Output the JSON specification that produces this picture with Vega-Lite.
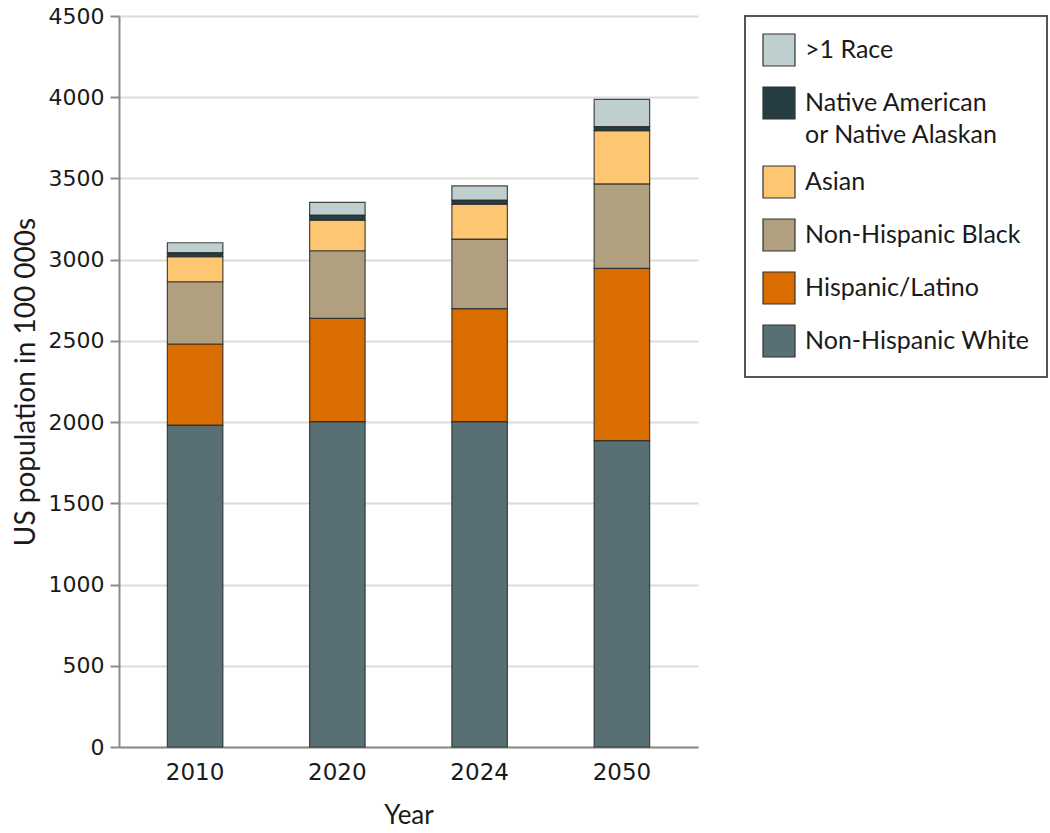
{
  "$schema": "https://vega.github.io/schema/vega-lite/v6.json",
  "autosize": {"type": "none"},
  "width": 579,
  "height": 731,
  "padding": {"left": 119, "top": 16, "right": 352, "bottom": 86},
  "background": "white",
  "config": {
    "view": {"stroke": null},
    "font": "Lato",
    "axis": {"labelColor": "#1a1a1a", "titleColor": "#1a1a1a", "titleFontWeight": "normal"}
  },
  "data": {
    "values": [
      {"year": "2010", "group": "Non-Hispanic White", "value": 1982},
      {"year": "2010", "group": "Hispanic/Latino", "value": 499},
      {"year": "2010", "group": "Non-Hispanic Black", "value": 383},
      {"year": "2010", "group": "Asian", "value": 154},
      {"year": "2010", "group": "Native American or Native Alaskan", "value": 25},
      {"year": "2010", "group": ">1 Race", "value": 61},
      {"year": "2020", "group": "Non-Hispanic White", "value": 2003},
      {"year": "2020", "group": "Hispanic/Latino", "value": 636},
      {"year": "2020", "group": "Non-Hispanic Black", "value": 416},
      {"year": "2020", "group": "Asian", "value": 189},
      {"year": "2020", "group": "Native American or Native Alaskan", "value": 31},
      {"year": "2020", "group": ">1 Race", "value": 78},
      {"year": "2024", "group": "Non-Hispanic White", "value": 2003},
      {"year": "2024", "group": "Hispanic/Latino", "value": 695},
      {"year": "2024", "group": "Non-Hispanic Black", "value": 429},
      {"year": "2024", "group": "Asian", "value": 214},
      {"year": "2024", "group": "Native American or Native Alaskan", "value": 26},
      {"year": "2024", "group": ">1 Race", "value": 87},
      {"year": "2050", "group": "Non-Hispanic White", "value": 1886},
      {"year": "2050", "group": "Hispanic/Latino", "value": 1061},
      {"year": "2050", "group": "Non-Hispanic Black", "value": 519},
      {"year": "2050", "group": "Asian", "value": 328},
      {"year": "2050", "group": "Native American or Native Alaskan", "value": 25},
      {"year": "2050", "group": ">1 Race", "value": 168}
    ]
  },
  "transform": [
    {"calculate": "indexof(['Non-Hispanic White','Hispanic/Latino','Non-Hispanic Black','Asian','Native American or Native Alaskan','>1 Race'], datum.group)", "as": "stackIdx"}
  ],
  "mark": {"type": "bar", "stroke": "#2a2a2a", "strokeWidth": 1.2, "strokeOpacity": 0.85},
  "encoding": {
    "x": {
      "field": "year", "type": "ordinal",
      "scale": {"paddingInner": 0.61, "paddingOuter": 0.34},
      "axis": {
        "title": "Year", "labelAngle": 0, "ticks": false,
        "domainColor": "#8a8a8a", "domainWidth": 2,
        "labelFont": "DejaVu Sans", "labelFontSize": 23, "labelPadding": 14,
        "titleFont": "Lato", "titleFontSize": 26, "titlePadding": 18
      }
    },
    "y": {
      "field": "value", "type": "quantitative", "stack": "zero",
      "scale": {"domain": [0, 4500], "nice": false},
      "axis": {
        "title": "US population in 100 000s",
        "values": [0, 500, 1000, 1500, 2000, 2500, 3000, 3500, 4000, 4500],
        "format": "d",
        "grid": true, "gridColor": "#dcdcdc", "gridWidth": 2,
        "domainColor": "#8a8a8a", "domainWidth": 2,
        "tickColor": "#8a8a8a", "tickWidth": 2, "tickSize": 9,
        "labelFont": "DejaVu Sans", "labelFontSize": 22, "labelPadding": 6,
        "titleFont": "Lato", "titleFontSize": 28, "titlePadding": 8
      }
    },
    "color": {
      "field": "group", "type": "nominal",
      "scale": {
        "domain": [">1 Race", "Native American or Native Alaskan", "Asian", "Non-Hispanic Black", "Hispanic/Latino", "Non-Hispanic White"],
        "range": ["#bfcfcf", "#263d43", "#fdc671", "#b0a07f", "#d96d00", "#587073"]
      },
      "legend": {
        "title": null,
        "orient": "right",
        "offset": 47,
        "padding": 17,
        "strokeColor": "#555555",
        "symbolType": "square",
        "symbolSize": 1024,
        "symbolStrokeColor": "#333333",
        "symbolStrokeWidth": 1.2,
        "symbolOpacity": 1,
        "labelFont": "Lato",
        "labelFontSize": 25,
        "labelColor": "#1a1a1a",
        "labelOffset": 9,
        "labelLimit": 400,
        "rowPadding": 15,
        "labelExpr": "datum.label == 'Native American or Native Alaskan' ? ['Native American', 'or Native Alaskan'] : datum.label",
        "encode": {
          "labels": {"update": {"lineHeight": {"value": 32}}},
          "legend": {"update": {"strokeWidth": {"value": 2}}}
        }
      }
    },
    "order": {"field": "stackIdx", "type": "quantitative", "sort": "ascending"}
  }
}
